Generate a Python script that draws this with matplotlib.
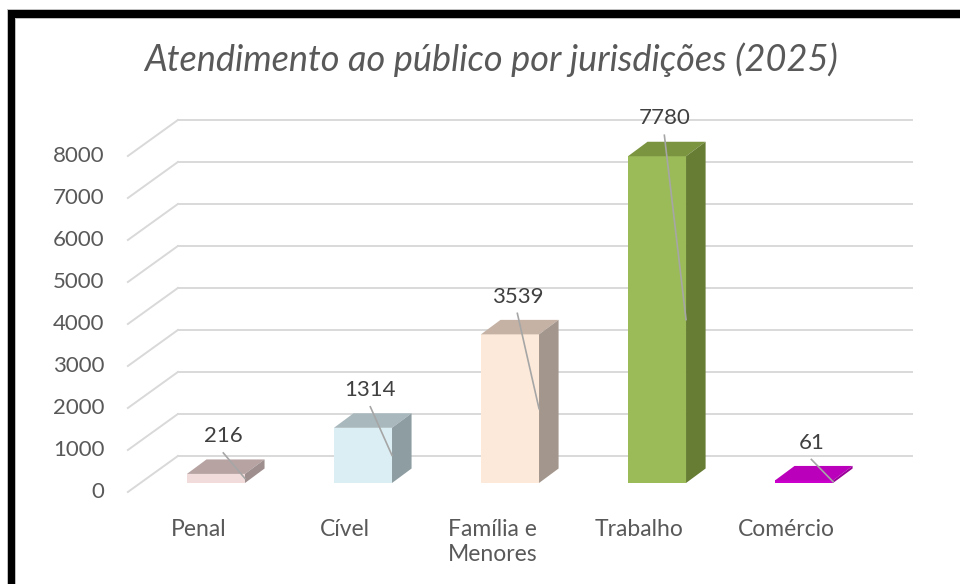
#!/usr/bin/env python3

# plot.py
# Excel-style 3D column chart: public service by jurisdiction (2025)

import matplotlib
matplotlib.use("Agg")
import matplotlib.pyplot as plt
from matplotlib.patches import Rectangle, Polygon


# data

categories = ["Penal", "Cível", "Família e\nMenores", "Trabalho", "Comércio"]
values = [216, 1314, 3539, 7780, 61]
y_ticks = [0, 1000, 2000, 3000, 4000, 5000, 6000, 7000, 8000]

front_colors = ["#F2DCDB", "#DAEEF3", "#FDE9D9", "#9BBB59", "#CC00CC"]
top_colors = ["#B8A3A3", "#A8B8BD", "#C5B2A5", "#7A9440", "#BB00BB"]
side_colors = ["#9E8E8E", "#8E9DA2", "#A3968C", "#667D33", "#990099"]

plt.rcParams['font.family'] = ['Lato', 'DejaVu Sans']


# figure with one axes spanning the whole canvas (x: category index, y: value)

fig = plt.figure(figsize=(9.6, 5.84), dpi=100)
ax = fig.add_axes([0, 0, 1, 1])
ax.set_xlim(-1.469, 5.061)
ax.set_ylim(-2405, 11500)
ax.axis("off")

bar_w = 0.395
ddx, ddy = 0.133, 345          # bar depth offset
front_x, back_x, end_x = -0.599, -0.259, 4.735
front_off, back_off = -214, 643
grid_col = "#D9D9D9"


# back wall gridlines with the floor diagonals

for t in y_ticks:
    ax.plot([front_x, back_x], [t + front_off, t + back_off], color=grid_col, lw=1.4, zorder=1)
    ax.plot([back_x, end_x], [t + back_off, t + back_off], color=grid_col, lw=1.4, zorder=1)
    ax.text(front_x - 0.16, t + front_off, str(t), ha="right", va="center",
            fontsize=16, color="#595959")


# bars (front, top, side)

xs = range(len(values))
ax.bar(xs, values, width=bar_w, color=front_colors, linewidth=0, zorder=3)

for i, v in enumerate(values):
    x0, x1 = i - bar_w / 2, i + bar_w / 2
    top = Polygon([(x0, v), (x1, v), (x1 + ddx, v + ddy), (x0 + ddx, v + ddy)],
                  closed=True, facecolor=top_colors[i], edgecolor="none", zorder=3)
    side = Polygon([(x1, 0), (x1, v), (x1 + ddx, v + ddy), (x1 + ddx, ddy)],
                   closed=True, facecolor=side_colors[i], edgecolor="none", zorder=3)
    ax.add_patch(top)
    ax.add_patch(side)

    # data label with leader line
    ax.text(i + 0.05, v + 900, str(v), ha="center", va="center", fontsize=16,
            color="#404040", zorder=5)
    ax.plot([i + 0.05, x1], [v + 500, v / 2], color="#A6A6A6", lw=1.2, zorder=4)

    # category label
    ax.text(i - 0.12, -850, categories[i], ha="center", va="top", fontsize=16.5,
            color="#595959", linespacing=1.25)


# title

fig.text(491 / 960, 1 - 60 / 584, "Atendimento ao público por jurisdições (2025)",
         ha="center", va="center", fontsize=26, style="italic", color="#595959")


# black frame (left and top edges)

fig.add_artist(Rectangle((7 / 960, 0), 9 / 960, 1 - 9 / 584, transform=fig.transFigure,
                         facecolor="#BFBFBF", edgecolor="none"))
fig.add_artist(Rectangle((7 / 960, 1 - 19 / 584), 1, 10 / 584, transform=fig.transFigure,
                         facecolor="#BFBFBF", edgecolor="none"))
fig.add_artist(Rectangle((8 / 960, 0), 7 / 960, 1 - 10 / 584, transform=fig.transFigure,
                         facecolor="black", edgecolor="none"))
fig.add_artist(Rectangle((8 / 960, 1 - 18 / 584), 1, 8 / 584, transform=fig.transFigure,
                         facecolor="black", edgecolor="none"))


plt.savefig("out.png", dpi=100)
